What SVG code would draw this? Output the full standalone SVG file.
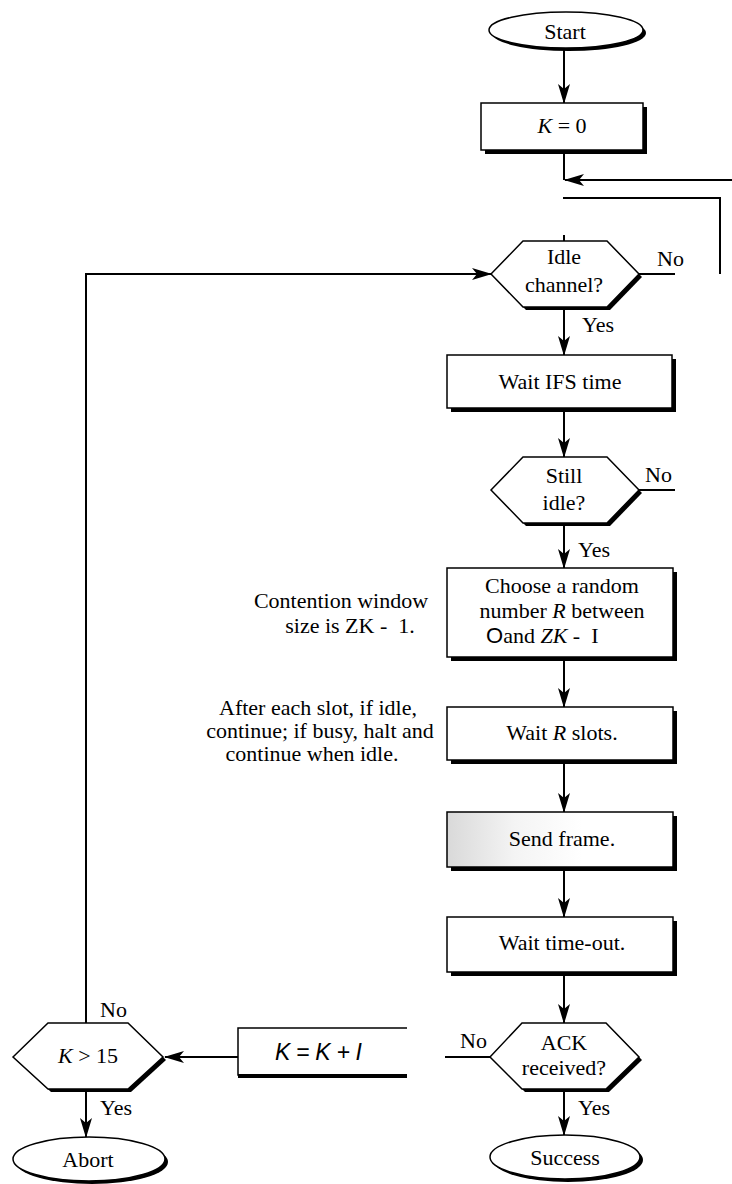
<svg xmlns="http://www.w3.org/2000/svg" width="732" height="1184" viewBox="0 0 732 1184">
<style>
.t{font-family:"Liberation Serif","Times New Roman",serif;font-size:22px;fill:#000}
.c{text-anchor:middle}
.i{font-style:italic}
.s{font-family:"Liberation Sans",Arial,sans-serif}
.ln{stroke:#000;stroke-width:2;fill:none}
.box{fill:#fff;stroke:#000;stroke-width:1.5}
.sh{fill:#000}
.pre{white-space:pre}
</style>
<defs>
<marker id="ah" markerWidth="20" markerHeight="12" refX="19" refY="6" orient="auto" markerUnits="userSpaceOnUse">
<path d="M0,0 L20,6 L0,12 L5,6 z" fill="#000"/>
</marker>
<linearGradient id="noise" x1="0" y1="0" x2="1" y2="0">
<stop offset="0" stop-color="#d9d9d9"/>
<stop offset="0.3" stop-color="#f4f4f4"/>
<stop offset="0.6" stop-color="#ffffff"/>
</linearGradient>
</defs>
<rect width="732" height="1184" fill="#fff"/>

<g id="connectors">
<line class="ln" x1="564" y1="48" x2="564" y2="103" marker-end="url(#ah)"/>
<line class="ln" x1="564" y1="150" x2="564" y2="180"/>
<line class="ln" x1="732" y1="180" x2="565" y2="180" marker-end="url(#ah)"/>
<polyline class="ln" points="563,198 720,198 720,274"/>
<line class="ln" x1="564" y1="235" x2="564" y2="242"/>
<line class="ln" x1="639" y1="274" x2="675" y2="274"/>
<polyline class="ln" points="86,1023 86,274 491,274" marker-end="url(#ah)"/>
<line class="ln" x1="564" y1="307" x2="564" y2="355" marker-end="url(#ah)"/>
<line class="ln" x1="564" y1="412" x2="564" y2="457" marker-end="url(#ah)"/>
<line class="ln" x1="639" y1="490" x2="675" y2="490"/>
<line class="ln" x1="564" y1="523" x2="564" y2="568" marker-end="url(#ah)"/>
<line class="ln" x1="564" y1="661" x2="564" y2="707" marker-end="url(#ah)"/>
<line class="ln" x1="564" y1="764" x2="564" y2="812" marker-end="url(#ah)"/>
<line class="ln" x1="564" y1="871" x2="564" y2="917" marker-end="url(#ah)"/>
<line class="ln" x1="564" y1="976" x2="564" y2="1023" marker-end="url(#ah)"/>
<line class="ln" x1="564" y1="1089" x2="564" y2="1135" marker-end="url(#ah)"/>
<line class="ln" x1="445" y1="1057" x2="490" y2="1057"/>
<line class="ln" x1="238" y1="1057" x2="165" y2="1057" marker-end="url(#ah)"/>
<line class="ln" x1="86" y1="1089" x2="86" y2="1137" marker-end="url(#ah)"/>
</g>

<g id="start">
<ellipse class="sh" cx="569" cy="33" rx="77" ry="18"/>
<ellipse class="box" cx="566" cy="30" rx="77" ry="18"/>
<text class="t c" x="565" y="39">Start</text>
</g>

<g id="k0">
<rect class="sh" x="485" y="107" width="162" height="47"/>
<rect class="box" x="481" y="103" width="162" height="47"/>
<text class="t c" x="562" y="133"><tspan class="i">K</tspan> = 0</text>
</g>

<g id="idle">
<polygon class="sh" points="494,277 526,244 610,244 642,277 610,310 526,310"/>
<polygon class="box" points="491,274 523,241 607,241 639,274 607,307 523,307"/>
<text class="t c" x="564" y="264">Idle</text>
<text class="t c" x="564" y="292">channel?</text>
<text class="t" x="657" y="266">No</text>
<text class="t" x="582" y="332">Yes</text>
</g>

<g id="waitifs">
<rect class="sh" x="451" y="359" width="225" height="53"/>
<rect class="box" x="447" y="355" width="225" height="53"/>
<text class="t c" x="560" y="389">Wait IFS time</text>
</g>

<g id="still">
<polygon class="sh" points="494,493 526,460 610,460 642,493 610,526 526,526"/>
<polygon class="box" points="491,490 523,457 607,457 639,490 607,523 523,523"/>
<text class="t c" x="564" y="483">Still</text>
<text class="t c" x="564" y="510">idle?</text>
<text class="t" x="645" y="482">No</text>
<text class="t" x="578" y="557">Yes</text>
</g>

<g id="choose">
<rect class="sh" x="451" y="572" width="226" height="89"/>
<rect class="box" x="447" y="568" width="226" height="89"/>
<text class="t c" x="562" y="593">Choose a random</text>
<text class="t c" x="562" y="618">number <tspan class="i">R</tspan> between</text>
<text class="t pre" x="486" y="643"><tspan class="s">O</tspan>and <tspan class="i">ZK</tspan> -  I</text>
</g>

<g id="note1">
<text class="t c" x="341" y="608">Contention window</text>
<text class="t c pre" x="350" y="633">size is ZK -  1.</text>
</g>

<g id="waitr">
<rect class="sh" x="451" y="711" width="226" height="53"/>
<rect class="box" x="447" y="707" width="226" height="53"/>
<text class="t c" x="562" y="740">Wait <tspan class="i">R</tspan> slots.</text>
</g>

<g id="note2">
<text class="t c" x="318" y="715">After each slot, if idle,</text>
<text class="t c" x="320" y="738">continue; if busy, halt and</text>
<text class="t c" x="312" y="761">continue when idle.</text>
</g>

<g id="send">
<rect class="sh" x="451" y="816" width="226" height="55"/>
<rect class="box" x="447" y="812" width="226" height="55" fill="url(#noise)" style="fill:url(#noise)"/>
<text class="t c" x="562" y="846">Send frame.</text>
</g>

<g id="timeout">
<rect class="sh" x="451" y="921" width="226" height="55"/>
<rect class="box" x="447" y="917" width="226" height="55"/>
<text class="t c" x="562" y="950">Wait time-out.</text>
</g>

<g id="ack">
<polygon class="sh" points="493,1060 525,1026 609,1026 642,1060 609,1092 525,1092"/>
<polygon class="box" points="490,1057 522,1023 606,1023 639,1057 606,1089 522,1089"/>
<text class="t c" x="564" y="1050">ACK</text>
<text class="t c" x="564" y="1075">received?</text>
<text class="t" x="460" y="1048">No</text>
<text class="t" x="578" y="1115">Yes</text>
</g>

<g id="success">
<ellipse class="sh" cx="568" cy="1160" rx="75" ry="22"/>
<ellipse class="box" cx="565" cy="1157" rx="75" ry="22"/>
<text class="t c" x="565" y="1165">Success</text>
</g>

<g id="kinc">
<rect x="238" y="1074" width="169" height="4" class="sh"/>
<polyline class="ln" style="stroke-width:1.5" points="407,1028 238,1028 238,1075 407,1075"/>
<text class="s i" x="275" y="1060" font-size="23" textLength="87" lengthAdjust="spacing">K=K+I</text>
</g>

<g id="k15">
<polygon class="sh" points="16,1060 51,1026 131,1026 166,1060 131,1092 51,1092"/>
<polygon class="box" points="13,1057 48,1023 128,1023 163,1057 128,1089 48,1089"/>
<text class="t c" x="88" y="1063"><tspan class="i">K</tspan> &gt; 15</text>
<text class="t" x="100" y="1017">No</text>
<text class="t" x="100" y="1115">Yes</text>
</g>

<g id="abort">
<ellipse class="sh" cx="92" cy="1162" rx="76" ry="22"/>
<ellipse class="box" cx="89" cy="1159" rx="76" ry="22"/>
<text class="t c" x="88" y="1167">Abort</text>
</g>
</svg>
